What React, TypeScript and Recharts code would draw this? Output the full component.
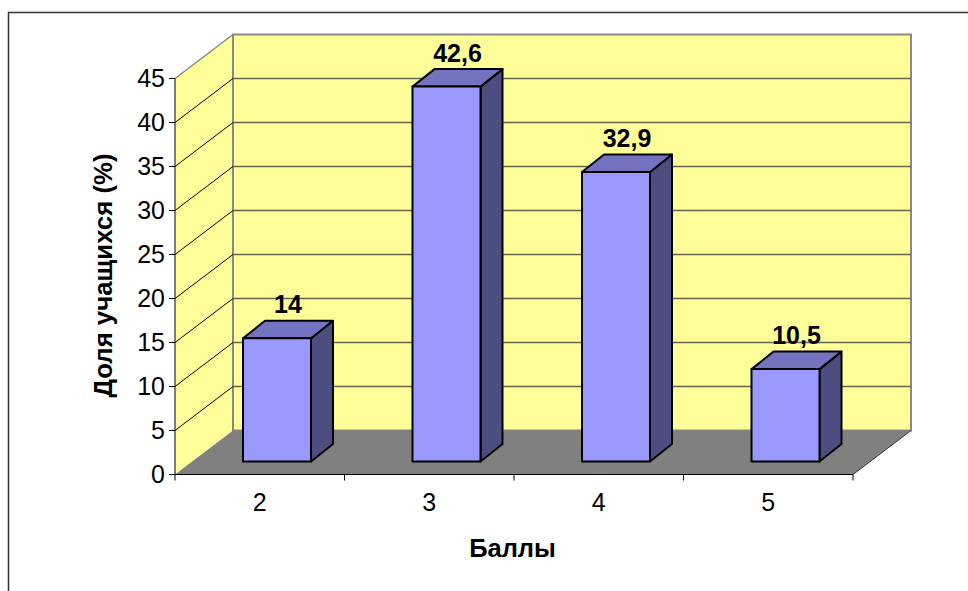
import { Bar, BarChart, CartesianGrid, LabelList, XAxis, YAxis } from "recharts";

const categories = ["2", "3", "4", "5"];
const shares = [14, 42.6, 32.9, 10.5];
const yTicks = [0, 5, 10, 15, 20, 25, 30, 35, 40, 45];

const data = categories.map((name, i) => ({ name, share: shares[i] }));

const W = 968;
const H = 591;
const margin = { left: 175, right: 115, top: 78.5, bottom: 116.5 };
const plotL = margin.left;
const plotR = W - margin.right;
const plotT = margin.top;
const plotB = H - margin.bottom;
const band = (plotR - plotL) / categories.length;

// fake 3d: how far the back wall sits from the front plane
const DX = 58;
const DY = 44;
// bars stand part way into the floor
const barDX = 17;
const barDY = 13;
const sideDX = 22;
const sideDY = 17.5;

const font = "'Liberation Sans', Arial, sans-serif";

// frame, walls and floor sit in their own svg under the chart
function Backdrop() {
  return (
    <svg width={W} height={H} style={{ position: "absolute", left: 0, top: 0 }}>
      <rect x={8.5} y={12.5} width={1200} height={1200} fill="#fff" stroke="#333" strokeWidth={1.5} />
      <polygon
        points={`${plotL},${plotT} ${plotL + DX},${plotT - DY} ${plotL + DX},${plotB - DY} ${plotL},${plotB}`}
        fill="#ffff99"
      />
      <line x1={plotL} y1={plotT} x2={plotL + DX} y2={plotT - DY} stroke="#888" strokeWidth={1.5} />
      <rect x={plotL + DX} y={plotT - DY} width={plotR - plotL} height={plotB - plotT} fill="#ffff99" stroke="#888" strokeWidth={2} />
      <polygon
        points={`${plotL},${plotB} ${plotL + DX},${plotB - DY} ${plotR + DX},${plotB - DY} ${plotR},${plotB}`}
        fill="#808080"
      />
      <line x1={plotR} y1={plotB} x2={plotR + DX} y2={plotB - DY} stroke="#333" strokeWidth={1} />
    </svg>
  );
}

function Titles() {
  return (
    <g>
      <text
        transform="translate(112,275.5) rotate(-90)"
        textAnchor="middle"
        fontFamily={font}
        fontWeight="bold"
        fontSize={25.8}
        fill="#000"
      >
        Доля учащихся (%)
      </text>
      <text x={512.5} y={557} textAnchor="middle" fontFamily={font} fontWeight="bold" fontSize={25.5} fill="#000">
        Баллы
      </text>
    </g>
  );
}

function GridRow(props: any) {
  const { x1, x2, y1 } = props;
  if (y1 <= plotT + 1 || y1 >= plotB - 1) return <g key={y1} />;
  return (
    <g key={y1}>
      <line x1={x1} y1={y1} x2={x1 + DX} y2={y1 - DY} stroke="#000" strokeWidth={1} />
      <line x1={x1 + DX} y1={y1 - DY} x2={x2 + DX} y2={y1 - DY} stroke="#66664d" strokeWidth={1.5} />
    </g>
  );
}

function Box(props: any) {
  const { x, y, width, height } = props;
  const l = x + barDX;
  const r = l + width;
  const t = y - barDY;
  const b = t + height;
  return (
    <g stroke="#000" strokeWidth={2} strokeLinejoin="round">
      <polygon points={`${r},${t} ${r + sideDX},${t - sideDY} ${r + sideDX},${b - sideDY} ${r},${b}`} fill="#4d4d80" />
      <polygon points={`${l},${t} ${l + sideDX},${t - sideDY} ${r + sideDX},${t - sideDY} ${r},${t}`} fill="#7373bf" />
      <rect x={l} y={t} width={width} height={height} fill="#9999ff" />
    </g>
  );
}

function ValueLabel(props: any) {
  const { x, y, width, value } = props;
  return (
    <text
      x={x + barDX + width / 2 + 11}
      y={y - barDY - 25}
      textAnchor="middle"
      fontFamily={font}
      fontWeight="bold"
      fontSize={25}
      fill="#000"
    >
      {String(value).replace(".", ",")}
    </text>
  );
}

function CategoryTick(props: any) {
  const { x, y, payload, index } = props;
  return (
    <g>
      <line x1={x - band / 2} y1={plotB} x2={x - band / 2} y2={plotB + 6} stroke="#000" />
      {index === categories.length - 1 && <line x1={x + band / 2} y1={plotB} x2={x + band / 2} y2={plotB + 6} stroke="#000" />}
      <text x={x} y={y + 28} textAnchor="middle" fontFamily={font} fontSize={25} fill="#000">
        {payload.value}
      </text>
    </g>
  );
}

export default function App() {
  return (
    <div style={{ position: "absolute", left: 0, top: 0, width: W, height: H, overflow: "hidden", background: "#fff" }}>
      <Backdrop />
      <div style={{ position: "absolute", left: 0, top: 0 }}>
        <BarChart width={W} height={H} data={data} margin={{ left: margin.left - 60, right: margin.right, top: margin.top, bottom: margin.bottom - 40 }} barCategoryGap={0}>
          <CartesianGrid horizontal={GridRow} vertical={false} />
          <XAxis dataKey="name" height={40} axisLine={{ stroke: "#000" }} tickLine={false} tick={CategoryTick} interval={0} />
          <YAxis
            width={60}
            domain={[0, 45]}
            ticks={yTicks}
            interval={0}
            axisLine={{ stroke: "#000" }}
            tickLine={{ stroke: "#000" }}
            tickSize={6}
            tickMargin={4}
            tick={{ fill: "#000", fontFamily: font, fontSize: 25 }}
          />
          <Bar dataKey="share" barSize={68} shape={Box} isAnimationActive={false}>
            <LabelList dataKey="share" content={ValueLabel} />
          </Bar>
          <Titles />
        </BarChart>
      </div>
    </div>
  );
}
